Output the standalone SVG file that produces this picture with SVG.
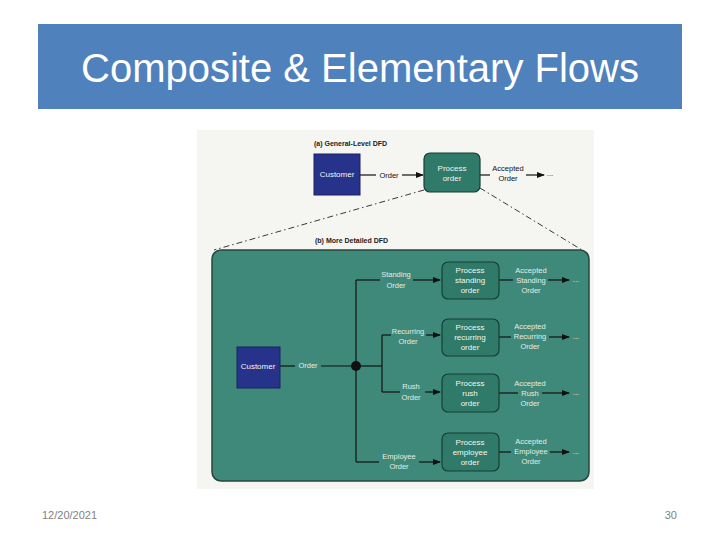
<svg xmlns="http://www.w3.org/2000/svg" width="720" height="540" viewBox="0 0 720 540">
<defs>
<marker id="ah" markerWidth="8" markerHeight="6" refX="7" refY="3" orient="auto" markerUnits="userSpaceOnUse"><path d="M0,0 L8,3 L0,6 Z" fill="#111"/></marker>
<style>
.t{font-family:"Liberation Sans",Arial,sans-serif}
.hd{font-size:7px;font-weight:bold;fill:#222}
.bk{font-size:7.5px;fill:#111;text-anchor:middle}
.wt{font-size:8px;fill:#f2f6f0;text-anchor:middle}
.lb{font-size:7.5px;fill:#e4ece0;text-anchor:middle}
.ln{stroke:#111;stroke-width:1.2;fill:none}
.pb{fill:#2f7a68;stroke:#163f34;stroke-width:1.2}
.cu{fill:#27338a;stroke:#1a2060;stroke-width:1}
</style>
</defs>
<rect width="720" height="540" fill="#ffffff"/>
<g id="title">
<rect x="38" y="24" width="644" height="85" fill="#4f81bd"/>
<text class="t" x="360" y="82" font-size="40" fill="#ffffff" text-anchor="middle">Composite &amp; Elementary Flows</text>
</g>
<rect x="197" y="130" width="397" height="359" fill="#f5f5f2"/>
<g id="panel">
<rect x="212" y="250" width="377" height="231" rx="9" fill="#3f897b" stroke="#24463c" stroke-width="1.5"/>
</g>
<g id="labels-top">
<text class="t hd" x="314" y="146">(a) General-Level DFD</text>
<text class="t hd" x="315" y="243">(b) More Detailed DFD</text>
</g>
<g id="connectors">
<line class="ln" x1="360" y1="175" x2="376" y2="175"/>
<line class="ln" x1="402" y1="175" x2="423" y2="175" marker-end="url(#ah)"/>
<line class="ln" x1="480" y1="175" x2="490" y2="175"/>
<line class="ln" x1="526" y1="175" x2="544" y2="175" marker-end="url(#ah)"/>
<text class="t bk" x="550" y="176">...</text>
<path d="M424,190 L214,250" stroke="#222" stroke-width="0.9" stroke-dasharray="6,3,1.5,3" fill="none"/>
<path d="M480,188 L582,250" stroke="#222" stroke-width="0.9" stroke-dasharray="6,3,1.5,3" fill="none"/>
<line class="ln" x1="280" y1="366" x2="295" y2="366"/>
<line class="ln" x1="321" y1="366" x2="356" y2="366"/>
<line class="ln" x1="356" y1="280" x2="356" y2="462"/>
<line class="ln" x1="356" y1="366" x2="382" y2="366"/>
<line class="ln" x1="382" y1="335" x2="382" y2="392"/>
<line class="ln" x1="356" y1="280" x2="380" y2="280"/>
<line class="ln" x1="413" y1="280" x2="440" y2="280" marker-end="url(#ah)"/>
<line class="ln" x1="382" y1="335" x2="391" y2="335"/>
<line class="ln" x1="426" y1="335" x2="440" y2="335" marker-end="url(#ah)"/>
<line class="ln" x1="382" y1="392" x2="400" y2="392"/>
<line class="ln" x1="425" y1="392" x2="440" y2="392" marker-end="url(#ah)"/>
<line class="ln" x1="356" y1="462" x2="379" y2="462"/>
<line class="ln" x1="419" y1="462" x2="440" y2="462" marker-end="url(#ah)"/>
<circle cx="356" cy="366" r="5" fill="#111"/>
<line class="ln" x1="499" y1="280" x2="513" y2="280"/>
<line class="ln" x1="548" y1="280" x2="569" y2="280" marker-end="url(#ah)"/>
<line class="ln" x1="499" y1="337" x2="511" y2="337"/>
<line class="ln" x1="549" y1="337" x2="569" y2="337" marker-end="url(#ah)"/>
<line class="ln" x1="499" y1="393" x2="518" y2="393"/>
<line class="ln" x1="542" y1="393" x2="569" y2="393" marker-end="url(#ah)"/>
<line class="ln" x1="499" y1="452" x2="511" y2="452"/>
<line class="ln" x1="550" y1="452" x2="569" y2="452" marker-end="url(#ah)"/>
<text class="t lb" x="576" y="282">...</text>
<text class="t lb" x="576" y="339">...</text>
<text class="t lb" x="576" y="395">...</text>
<text class="t lb" x="576" y="454">...</text>
<text class="t bk" x="389" y="178">Order</text>
<text class="t bk" x="508" y="171">Accepted</text>
<text class="t bk" x="508" y="181">Order</text>
<text class="t lb" x="308" y="368">Order</text>
<text class="t lb" x="396" y="277">Standing</text>
<text class="t lb" x="396" y="288">Order</text>
<text class="t lb" x="408" y="334">Recurring</text>
<text class="t lb" x="408" y="344">Order</text>
<text class="t lb" x="411" y="389">Rush</text>
<text class="t lb" x="411" y="400">Order</text>
<text class="t lb" x="399" y="459">Employee</text>
<text class="t lb" x="399" y="469">Order</text>
<text class="t lb" x="531" y="273">Accepted</text>
<text class="t lb" x="531" y="283">Standing</text>
<text class="t lb" x="531" y="293">Order</text>
<text class="t lb" x="530" y="329">Accepted</text>
<text class="t lb" x="530" y="339">Recurring</text>
<text class="t lb" x="530" y="349">Order</text>
<text class="t lb" x="530" y="386">Accepted</text>
<text class="t lb" x="530" y="396">Rush</text>
<text class="t lb" x="530" y="406">Order</text>
<text class="t lb" x="531" y="444">Accepted</text>
<text class="t lb" x="531" y="454">Employee</text>
<text class="t lb" x="531" y="464">Order</text>
</g>
<g id="customer-a">
<rect class="cu" x="314" y="154" width="46" height="41"/>
<text class="t wt" x="337" y="177" font-size="7.5">Customer</text>
</g>
<g id="process-order">
<rect class="pb" x="424" y="153" width="56" height="39" rx="6"/>
<text class="t wt" x="452" y="171">Process</text>
<text class="t wt" x="452" y="181">order</text>
</g>
<g id="customer-b">
<rect class="cu" x="237" y="347" width="43" height="41"/>
<text class="t wt" x="258" y="369" font-size="6.5">Customer</text>
</g>
<g id="process-standing">
<rect class="pb" x="442" y="262" width="57" height="37" rx="6"/>
<text class="t wt" x="470" y="273">Process</text>
<text class="t wt" x="470" y="283">standing</text>
<text class="t wt" x="470" y="293">order</text>
</g>
<g id="process-recurring">
<rect class="pb" x="442" y="319" width="57" height="37" rx="6"/>
<text class="t wt" x="470" y="330">Process</text>
<text class="t wt" x="470" y="340">recurring</text>
<text class="t wt" x="470" y="350">order</text>
</g>
<g id="process-rush">
<rect class="pb" x="442" y="374" width="57" height="38" rx="6"/>
<text class="t wt" x="470" y="386">Process</text>
<text class="t wt" x="470" y="396">rush</text>
<text class="t wt" x="470" y="406">order</text>
</g>
<g id="process-employee">
<rect class="pb" x="442" y="433" width="57" height="38" rx="6"/>
<text class="t wt" x="470" y="445">Process</text>
<text class="t wt" x="470" y="455">employee</text>
<text class="t wt" x="470" y="465">order</text>
</g>
<g id="footer">
<text class="t" x="42" y="519" font-size="11" fill="#7f7f7f">12/20/2021</text>
<text class="t" x="677" y="519" font-size="11" fill="#7f7f7f" text-anchor="end">30</text>
</g>
</svg>
